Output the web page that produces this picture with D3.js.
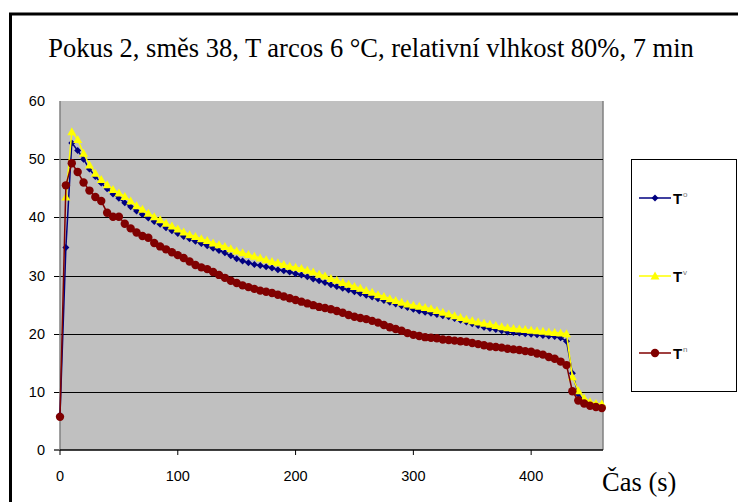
<!DOCTYPE html>
<html><head><meta charset="utf-8">
<script src="https://cdn.jsdelivr.net/npm/d3@7"></script>
<style>body{margin:0;background:#fff}svg{display:block}</style>
</head><body><svg id="c" width="738" height="502"></svg>
<script>
const title = "Pokus 2, směs 38, T arcos 6 °C, relativní vlhkost 80%, 7 min";
const xAxisTitle = "Čas (s)";
const xTicks = [0,100,200,300,400];
const yTicks = [0,10,20,30,40,50,60];
const seriesNames = ["o","v","n"];
const time = [0,5,10,15,20,25,30,35,40,45,50,55,60,65,70,75,80,85,90,95,100,105,110,115,120,125,130,135,140,145,150,155,160,165,170,175,180,185,190,195,200,205,210,215,220,225,230,235,240,245,250,255,260,265,270,275,280,285,290,295,300,305,310,315,320,325,330,335,340,345,350,355,360,365,370,375,380,385,390,395,400,405,410,415,420,425,430,435,440,445,450,455,460];
const tO = [6.0,34.8,52.8,51.5,50.0,48.3,47.0,45.9,44.9,44.0,43.3,42.5,41.8,41.1,40.5,39.9,39.3,38.8,38.2,37.7,37.2,36.7,36.3,35.9,35.5,35.1,34.7,34.3,33.9,33.4,32.9,32.5,32.2,31.9,31.7,31.5,31.3,31.0,30.8,30.6,30.3,30.1,29.8,29.4,29.1,28.8,28.4,28.1,27.8,27.5,27.2,26.9,26.6,26.3,26.0,25.7,25.4,25.1,24.8,24.5,24.2,23.9,23.7,23.5,23.3,23.1,22.9,22.6,22.3,22.0,21.7,21.4,21.1,20.9,20.7,20.5,20.3,20.2,20.1,20.0,19.9,19.8,19.7,19.6,19.5,19.3,18.7,13.2,9.6,8.5,8.0,7.7,7.6];
const tV = [null,43.5,54.7,53.4,51.0,49.0,47.6,46.5,45.6,44.8,44.2,43.6,42.8,42.0,41.4,40.7,40.1,39.6,39.0,38.5,38.0,37.5,37.0,36.7,36.3,36.0,35.6,35.3,35.0,34.6,34.2,33.9,33.6,33.3,33.0,32.7,32.4,32.2,31.9,31.6,31.4,31.2,30.9,30.6,30.2,29.9,29.5,29.2,28.8,28.5,28.1,27.8,27.4,27.1,26.7,26.4,26.0,25.7,25.4,25.1,24.9,24.7,24.5,24.3,24.0,23.7,23.4,23.1,22.8,22.5,22.2,22.0,21.8,21.6,21.4,21.2,21.0,20.9,20.8,20.7,20.6,20.5,20.4,20.3,20.2,20.1,20.0,12.6,10.2,8.9,8.3,8.0,7.9];
const tN = [5.7,45.5,49.3,47.8,46.0,44.6,43.5,42.8,40.8,40.1,40.1,38.9,38.1,37.4,36.8,36.5,35.6,35.0,34.5,34.0,33.5,33.0,32.4,31.8,31.4,31.1,30.6,30.1,29.6,29.1,28.7,28.3,28.0,27.7,27.4,27.2,27.0,26.7,26.4,26.1,25.8,25.5,25.2,24.9,24.6,24.4,24.2,23.9,23.6,23.2,22.9,22.7,22.5,22.2,21.9,21.5,21.1,20.8,20.5,20.1,19.8,19.6,19.4,19.3,19.2,19.0,18.9,18.8,18.7,18.6,18.4,18.2,18.0,17.8,17.7,17.6,17.4,17.3,17.2,17.0,16.9,16.6,16.4,16.0,15.7,15.2,14.6,10.1,8.5,8.0,7.6,7.4,7.2];

const svg = d3.select("#c");
const L=60,R=603,T=101,B=450;
const x = d3.scaleLinear().domain([0,461]).range([L,R]);
const y = d3.scaleLinear().domain([0,60]).range([B,T]);

// outer frame
svg.append("path").attr("d","M10.5,520 L10.5,14 L760,14").attr("fill","none").attr("stroke","#000").attr("stroke-width",3);

// title
svg.append("text").attr("x",371).attr("y",57).attr("text-anchor","middle")
  .attr("font-family","'Liberation Serif','Times New Roman',serif").attr("font-size",26.5).text(title);

// plot area
svg.append("rect").attr("x",L).attr("y",T).attr("width",R-L).attr("height",B-T).attr("fill","#c0c0c0");
svg.append("line").attr("x1",R).attr("x2",R).attr("y1",T).attr("y2",B).attr("stroke","#808080").attr("stroke-width",1.5);

// gridlines + y ticks
const g = svg.append("g").attr("font-family","'Liberation Sans',Arial,sans-serif").attr("font-size",14.5);
yTicks.forEach(v=>{
  if(v>0 && v<60) g.append("line").attr("x1",54).attr("x2",R).attr("y1",Math.round(y(v))+0.5).attr("y2",Math.round(y(v))+0.5).attr("stroke","#000").attr("stroke-width",1.2);
  if(v===0) g.append("line").attr("x1",54).attr("x2",L).attr("y1",y(v)).attr("y2",y(v)).attr("stroke","#000").attr("stroke-width",1.2);
  g.append("text").attr("x",45).attr("y",y(v)+5).attr("text-anchor","end").text(v);
});
// y axis line
svg.append("line").attr("x1",L).attr("x2",L).attr("y1",T).attr("y2",B).attr("stroke","#808080").attr("stroke-width",1.5);
// x axis
svg.append("line").attr("x1",L).attr("x2",R).attr("y1",B).attr("y2",B).attr("stroke","#000").attr("stroke-width",1.5);
xTicks.forEach(v=>{
  g.append("line").attr("x1",x(v)).attr("x2",x(v)).attr("y1",B).attr("y2",B+5).attr("stroke","#000").attr("stroke-width",1);
  g.append("text").attr("x",x(v)).attr("y",480.5).attr("text-anchor","middle").text(v);
});
svg.append("text").attr("x",602).attr("y",491).attr("font-family","'Liberation Serif','Times New Roman',serif").attr("font-size",26.5).text(xAxisTitle);

// series
const series = [
  {vals:tO,color:"#000080",shape:"diamond"},
  {vals:tV,color:"#ffff00",shape:"triangle"},
  {vals:tN,color:"#800000",shape:"circle"}
];
function marker(sel,shape,color,cx,cy){
  if(shape==="diamond"){
    sel.append("path").attr("d",`M${cx},${cy-3.5}L${cx+3.5},${cy}L${cx},${cy+3.5}L${cx-3.5},${cy}Z`).attr("fill",color);
  } else if(shape==="triangle"){
    sel.append("path").attr("d",`M${cx},${cy-4.5}L${cx+4.5},${cy+3.5}L${cx-4.5},${cy+3.5}Z`).attr("fill",color);
  } else {
    sel.append("circle").attr("cx",cx).attr("cy",cy).attr("r",4.2).attr("fill",color);
  }
}
const line = d3.line().defined(d=>d[1]!=null).x(d=>x(d[0])).y(d=>y(d[1]));
series.forEach(s=>{
  const pts = time.map((t,i)=>[t,s.vals[i]]);
  const gg = svg.append("g");
  gg.append("path").attr("d",line(pts)).attr("fill","none").attr("stroke",s.color).attr("stroke-width",1.5);
  pts.filter(d=>d[1]!=null).forEach(d=>marker(gg,s.shape,s.color,x(d[0]),y(d[1])));
});

// legend
svg.append("rect").attr("x",631.5).attr("y",159.5).attr("width",105).attr("height",232).attr("fill","#fff").attr("stroke","#000").attr("stroke-width",1);
const ly=[198,276,353];
series.forEach((s,i)=>{
  const lg = svg.append("g");
  lg.append("line").attr("x1",639).attr("x2",671).attr("y1",ly[i]).attr("y2",ly[i]).attr("stroke",s.color).attr("stroke-width",1.5);
  marker(lg,s.shape,s.color,655,ly[i]);
  lg.append("text").attr("x",673).attr("y",ly[i]+5.5).attr("font-family","'Liberation Sans',Arial,sans-serif").attr("font-size",15).attr("font-weight","bold").text("T");
  lg.append("text").attr("x",683).attr("y",ly[i]-1.5).attr("font-family","'Liberation Sans',Arial,sans-serif").attr("font-size",8).attr("fill","#777").text(seriesNames[i]);
});
</script></body></html>
